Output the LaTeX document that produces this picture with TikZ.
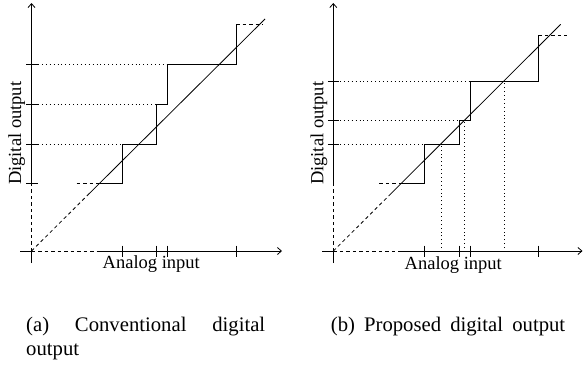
\documentclass[tikz,border=0pt]{standalone}
\usepackage{fontspec}
\setmainfont{Liberation Serif}
\usetikzlibrary{arrows.meta}
\tikzset{
  ln/.style={line width=0.8pt, line cap=butt},
  dsh/.style={ln, dash pattern=on 3.5pt off 3pt},
  dtt/.style={line width=0.8pt, dash pattern=on 0.9pt off 3pt},
  axis/.style={ln, -{Straight Barb[length=4pt,width=7pt]}},
  tickln/.style={ln},
  lbl/.style={inner sep=0pt, anchor=base, font=\fontsize{18.5}{22}\selectfont},
  captxt/.style={inner sep=0pt, font=\fontsize{20.7}{24}\selectfont}
}
\begin{document}
\begin{tikzpicture}[x=1pt,y=-1pt]
\useasboundingbox (0,0) rectangle (583,364);
% ===== Left panel =====
\coordinate (Oa) at (31.5,251);
% y axis
\draw[ln] (31.5,263) -- (Oa);
\draw[dsh] (Oa) -- (31.5,183.3);
\draw[axis] (31.5,183.3) -- (31.5,3);
\foreach \yy in {183.3,144,104,64} \draw[tickln] (26,\yy) -- (37.5,\yy);
% x axis
\draw[ln] (20,251) -- (Oa);
\draw[dsh] (Oa) -- (100,251);
\draw[axis] (100,251) -- (282,251);
\foreach \xx in {122.7,156.7,167.7,236} \draw[tickln] (\xx,245.5) -- (\xx,256.5);
% diagonal
\draw[dsh] (Oa) -- (88,194.8);
\draw[ln] (88,194.8) -- (265,19);
% staircase
\draw[dsh] (76.7,183.3) -- (100,183.3);
\draw[ln] (100,183.3) -- (122.7,183.3) -- (122.7,144) -- (156.7,144) -- (156.7,104)
  -- (167.7,104) -- (167.7,64) -- (236,64) -- (236,24.3);
\draw[dsh] (236,24.3) -- (263,24.3);
% dotted
\draw[dtt] (38,144) -- (122.7,144);
\draw[dtt] (38,104) -- (156.7,104);
\draw[dtt] (38,64) -- (167.7,64);
% labels
\node[lbl] (xa) at (151.3,268.5) {Analog input};
\node[lbl, rotate=90] (ya) at (21,133.3) {Digital output};

% ===== Right panel =====
\coordinate (Ob) at (333.3,251);
\draw[ln] (333.3,263) -- (Ob);
\draw[dsh] (Ob) -- (333.3,183.3);
\draw[axis] (333.3,183.3) -- (333.3,3);
\foreach \yy in {144,120.7,81.3} \draw[tickln] (327.8,\yy) -- (339.3,\yy);
\draw[ln] (322.3,251) -- (Ob);
\draw[dsh] (Ob) -- (401,251);
\draw[axis] (401,251) -- (582.5,251);
\foreach \xx in {424.3,459,470,538.3} \draw[tickln] (\xx,245.5) -- (\xx,256.5);
% diagonal
\draw[dsh] (Ob) -- (390,194.6);
\draw[ln] (390,194.6) -- (560.7,24.3);
% staircase
\draw[dsh] (379.3,183.3) -- (401.7,183.3);
\draw[ln] (401.7,183.3) -- (424.3,183.3) -- (424.3,144) -- (459,144) -- (459,120.7)
  -- (470,120.7) -- (470,81.3) -- (538.3,81.3) -- (538.3,35);
\draw[dsh] (538.3,35) -- (566.7,35);
% dotted
\draw[dtt] (340,144) -- (424.3,144);
\draw[dtt] (340,120.7) -- (459,120.7);
\draw[dtt] (340,81.3) -- (470,81.3);
\draw[dtt] (441.7,248) -- (441.7,144);
\draw[dtt] (464.3,248) -- (464.3,120.7);
\draw[dtt] (504,248) -- (504,81.3);
% labels
\node[lbl] (xb) at (453.3,269) {Analog input};
\node[lbl, rotate=90] (yb) at (323.3,133.3) {Digital output};

% ===== Captions =====
\node[captxt, anchor=base west] (ca1) at (26,331.7) {\makebox[239pt][s]{(a) Conventional digital}};
\node[captxt, anchor=base west] (ca4) at (26,355) {output};
\node[captxt, anchor=base west] (cb) at (330.7,331.7) {\makebox[234.3pt][s]{(b) Proposed digital output}};
\end{tikzpicture}
\end{document}
